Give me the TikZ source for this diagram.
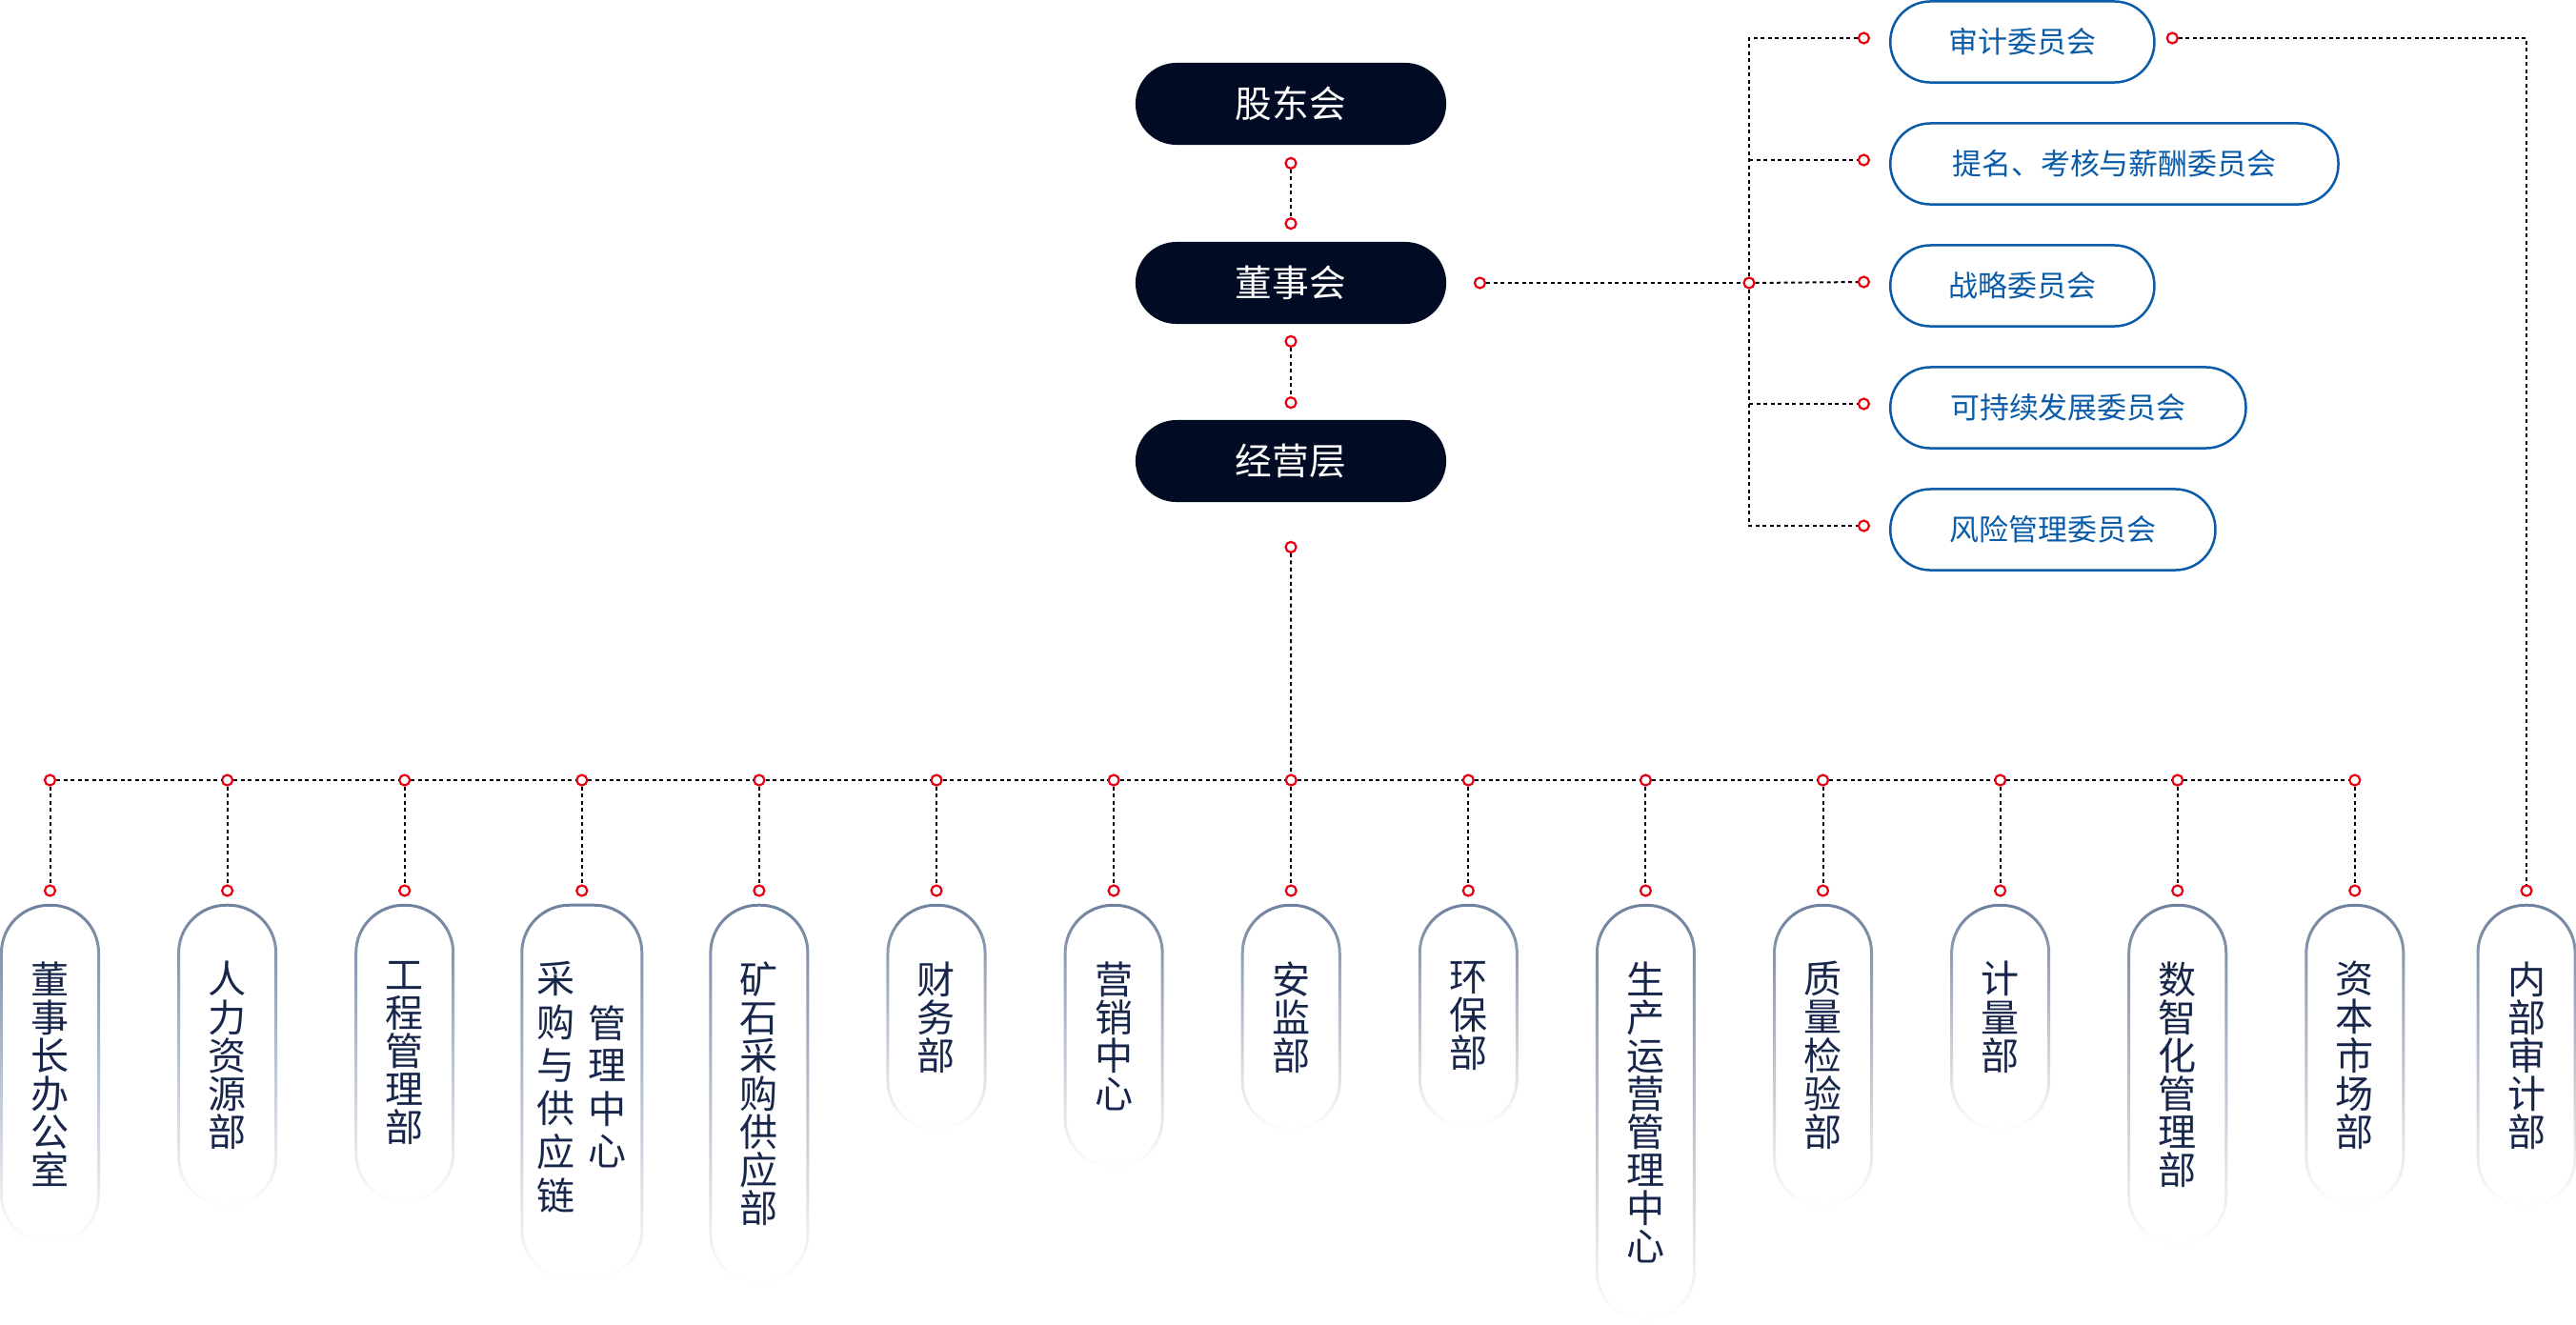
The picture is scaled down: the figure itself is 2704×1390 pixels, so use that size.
\documentclass[tikz,border=0pt]{standalone}
\usepackage{fontspec}
\newfontfamily\cjk{Noto Sans CJK SC}
\usetikzlibrary{
    positioning,
    fadings
}
\definecolor{navy}{RGB}{1,11,36}
\definecolor{comblue}{RGB}{10,92,168}
\definecolor{deptline}{RGB}{112,130,158}
\definecolor{depttext}{RGB}{24,38,76}
\definecolor{dotred}{RGB}{230,0,18}
\tikzfading[name=fadedown, top color=transparent!0, middle color=transparent!30, bottom color=transparent!100]
\newcommand{\vcol}[1]{\begin{tabular}{@{}c@{}}#1\end{tabular}}
\tikzset{
    link/.style={
        draw=black,
        line width=0.02cm,
        dash pattern=on 0.04cm off 0.035cm
    },
    dot/.style={
        circle,
        draw=dotred,
        fill=white,
        line width=0.022cm,
        minimum size=0.11cm,
        inner sep=0pt
    },
    topbox/.style={
        fill=navy,
        text=white,
        rounded corners=0.43cm,
        minimum width=3.26cm,
        minimum height=0.86cm,
        font=\cjk\fontsize{11pt}{11pt}\selectfont
    },
    combox/.style={
        draw=comblue,
        line width=0.025cm,
        fill=white,
        text=comblue,
        rounded corners=0.42cm,
        minimum height=0.85cm,
        anchor=west,
        font=\cjk\fontsize{8.8pt}{8.8pt}\selectfont
    },
    deptbox/.style={
        fill=white,
        text=depttext,
        rounded corners=0.5cm,
        minimum width=1.02cm,
        inner xsep=0pt,
        inner ysep=0.59cm,
        align=center,
        font=\cjk\fontsize{11.4pt}{11.4pt}\selectfont,
        postaction={draw=deptline, line width=0.03cm, path fading=fadedown}
    }
}

\begin{document}
\begin{tikzpicture}[x=0.01cm, y=-0.01cm]

    \useasboundingbox (0,0) rectangle (2704,1390);

    % Leitung
    \node[topbox] (gdh) at (1355,109) {股东会};
    \node[topbox] (dsh) at (1355,297) {董事会};
    \node[topbox] (jyc) at (1355,484) {经营层};

    \node[dot, below=0.12cm of gdh] (gdh-s) {};
    \node[dot, above=0.12cm of dsh] (dsh-n) {};
    \node[dot, below=0.11cm of dsh] (dsh-s) {};
    \node[dot, above=0.11cm of jyc] (jyc-n) {};
    \node[dot, below=0.40cm of jyc] (jyc-s) {};
    \node[dot, right=0.28cm of dsh] (dsh-e) {};
    \node[dot] (hub) at (1836,297) {};

    % Ausschuesse
    \foreach \n/\y/\w/\txt in {
        1/44/2.77/审计委员会,
        2/172/4.70/提名、考核与薪酬委员会,
        3/300/2.77/战略委员会,
        4/428/3.73/可持续发展委员会,
        5/556/3.41/风险管理委员会%
    }{
        \node[combox, minimum width=\w cm] (wy\n) at (1983,\y) {\txt};
        \node[dot, left=0.2cm of wy\n, yshift=0.04cm] (wy\n-w) {};
    }
    \node[dot, right=0.11cm of wy1, yshift=0.04cm] (wy1-e) {};

    % Abteilungen
    \foreach \i in {0,...,13}{
        \node[dot] (bus\i) at ({52.5+186.1*\i},819) {};
        \node[dot] (bt\i) at ({52.5+186.1*\i},935) {};
        \draw[link] (bus\i) -- (bt\i);
    }
    \node[dot] (bt14) at (2652,935) {};

    \foreach \i/\txt in {
        0/{董\\事\\长\\办\\公\\室},
        1/{人\\力\\资\\源\\部},
        2/{工\\程\\管\\理\\部},
        4/{矿\\石\\采\\购\\供\\应\\部},
        5/{财\\务\\部},
        6/{营\\销\\中\\心},
        7/{安\\监\\部},
        8/{环\\保\\部},
        9/{生\\产\\运\\营\\管\\理\\中\\心},
        10/{质\\量\\检\\验\\部},
        11/{计\\量\\部},
        12/{数\\智\\化\\管\\理\\部},
        13/{资\\本\\市\\场\\部},
        14/{内\\部\\审\\计\\部}%
    }{
        \node[deptbox, below=0.08cm of bt\i] (dept\i) {\txt};
    }
    \node[deptbox, minimum width=1.26cm, below=0.08cm of bt3] (dept3)
        {\vcol{采\\购\\与\\供\\应\\链}\hspace{0.14cm}\vcol{管\\理\\中\\心}};

    % Verbindungen
    \draw[link] (gdh-s) -- (dsh-n);
    \draw[link] (dsh-s) -- (jyc-n);
    \draw[link] (jyc-s) -- (bus7);
    \draw[link] (dsh-e) -- (hub);
    \draw[link] (wy1-w) -| (hub) |- (wy5-w);
    \draw[link] (hub |- wy2-w) -- (wy2-w);
    \draw[link] (hub) -- (wy3-w);
    \draw[link] (hub |- wy4-w) -- (wy4-w);
    \draw[link] (wy1-e) -| (bt14);
    \foreach \i [count=\j] in {0,...,12}
        \draw[link] (bus\i) -- (bus\j);

\end{tikzpicture}
\end{document}
